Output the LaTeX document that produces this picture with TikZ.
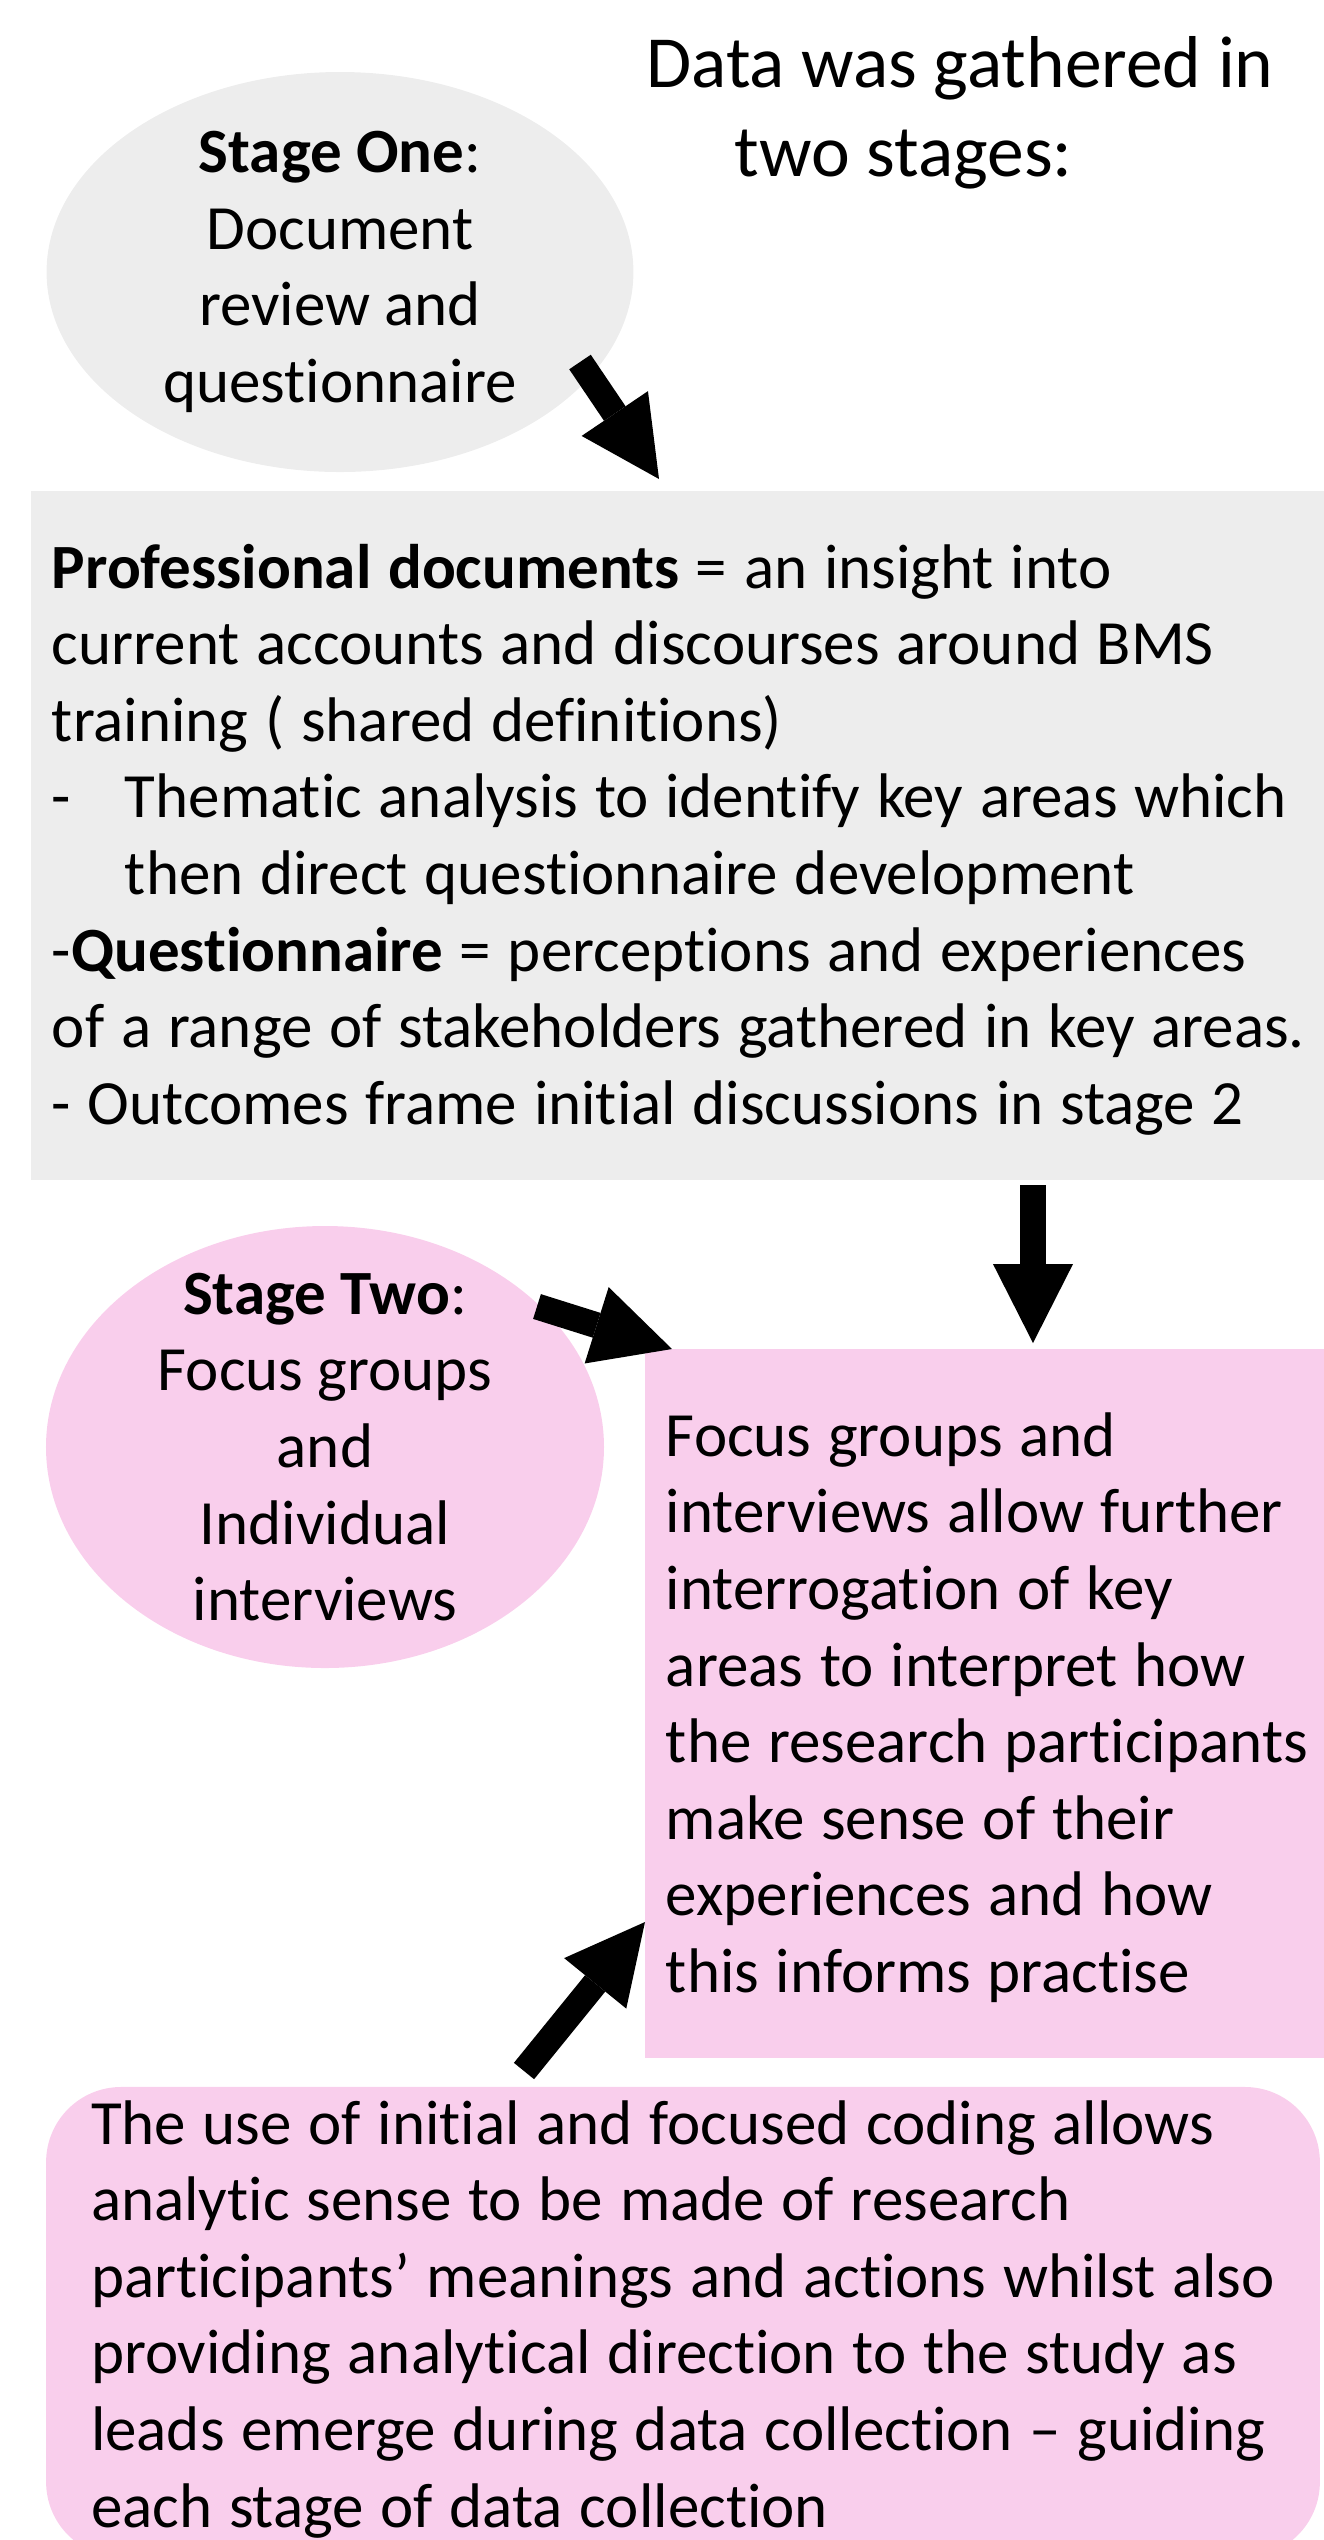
\documentclass[tikz,border=0pt]{standalone}
\usepackage{fontspec}
\setmainfont{Carlito}[Ligatures=NoCommon]
\usetikzlibrary{arrows.meta,shapes.geometric}

\definecolor{boxgrey}{RGB}{237,237,237}
\definecolor{boxpink}{RGB}{249,206,236}

\begin{document}
\begin{tikzpicture}[x=0.381pt,y=-0.381pt]

\tikzset{inner sep=0pt,font=\fontsize{24}{29.2}\selectfont,
greyfill/.style={fill=boxgrey},
pinkfill/.style={fill=boxpink},
stagebub/.style={ellipse,inner sep=-10pt,align=center},
textbox/.style={rectangle,inner xsep=8pt,inner ysep=0pt,align=left,text height=19.05pt,
  execute at begin node={\spaceskip=0.266em minus 0.05em\xspaceskip=0pt\hyphenpenalty=10000\relax}},
bigjump/.style={line width=9.9pt,-{Triangle[width=30.5pt,length=30.1pt,line width=0pt]}}}

\useasboundingbox (0,0) rectangle (1323,2540);

% Stage one bubble and heading
\node[stagebub,greyfill,minimum width=223.6pt,minimum height=152.4pt] (st1) at (340,272)
  {\textbf{Stage One}:\\Document\\review and\\questionnaire};
\node[font=\fontsize{28}{34}\selectfont,align=center] (head) at (960,113)
  {Data was gathered in\\two stages:\hspace*{43pt}};

% Stage one box
\node[textbox,greyfill,text width=502.2pt,text depth=207.6pt,minimum height=262.5pt] (docs) at (711,835.5)
  {\textbf{Professional documents} = an insight into\\
   current accounts and discourses around BMS\\
   training ( shared definitions)\\
   \makebox[27.8pt][l]{-}Thematic analysis to identify key areas which\\
   \hspace*{27.8pt}then direct questionnaire development\\
   -\textbf{Questionnaire} = perceptions and experiences\\
   of a range of stakeholders gathered in key areas.\\
   - Outcomes frame initial discussions in stage 2};

% Stage two bubble and box
\node[stagebub,pinkfill,minimum width=212.6pt,minimum height=168.4pt] (st2) at (325,1447)
  {\textbf{Stage Two}:\\Focus groups\\and\\Individual\\interviews};
\node[textbox,pinkfill,text width=273.6pt,text depth=207.6pt,minimum height=270.1pt] (focus) at (1025,1703.5)
  {Focus groups and\\
   interviews allow further\\
   interrogation of key\\
   areas to interpret how\\
   the research participants\\
   make sense of their\\
   experiences and how\\
   this informs practise};

% Coding box
\node[textbox,pinkfill,rounded corners=28.6pt,inner xsep=17.1pt,text width=451.1pt,text depth=154.7pt,minimum height=179.1pt] (coding) at (683,2322)
  {The use of initial and focused coding allows\\
   analytic sense to be made of research\\
   participants’ meanings and actions whilst also\\
   providing analytical direction to the study as\\
   leads emerge during data collection – guiding\\
   each stage of data collection};

% Arrows
\coordinate (a1s) at (580,362);
\coordinate (a1e) at (659,479);
\coordinate (a2s) at (1033,1185);
\coordinate (a2e) at (1033,1343);
\coordinate (a3s) at (537,1306.5);
\coordinate (a3e) at (672,1349);
\coordinate (a4s) at (524,2071);
\coordinate (a4e) at (645,1922);

\draw[bigjump] (a1s) -- (a1e);
\draw[bigjump] (a2s) -- (a2e);
\draw[bigjump] (a3s) -- (a3e);
\draw[bigjump] (a4s) -- (a4e);

\end{tikzpicture}
\end{document}
